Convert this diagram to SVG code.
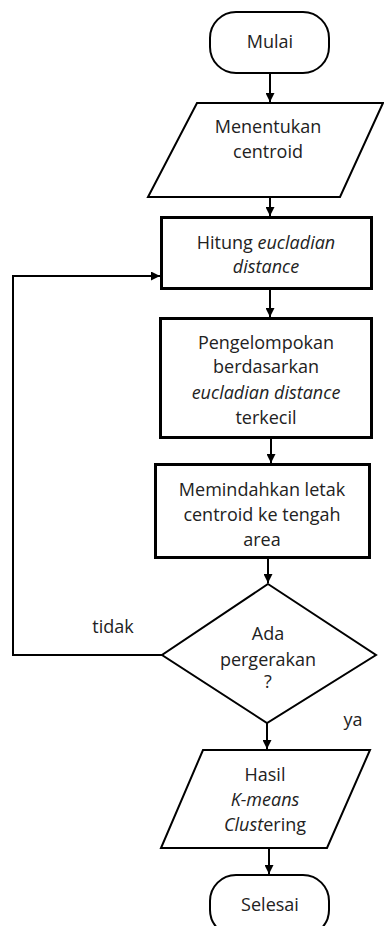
<svg xmlns="http://www.w3.org/2000/svg" width="384" height="926" viewBox="0 0 384 926">
<defs>
<marker id="ah" viewBox="0 0 10 10" refX="10" refY="5" markerWidth="4.5" markerHeight="4.5" orient="auto" markerUnits="strokeWidth">
<path d="M0,0 L10,5 L0,10 z" fill="#000"/>
</marker>
<style>
.t{font-family:"Open Sans","Liberation Sans",sans-serif;font-size:18px;fill:#222;text-anchor:middle}
.i{font-style:italic}
.s{fill:#fff;stroke:#000;stroke-width:2}
.b{fill:#fff;stroke:#000;stroke-width:3}
.c{fill:none;stroke:#000;stroke-width:2}
</style>
</defs>
<rect width="384" height="926" fill="#fff"/>
<g id="connectors">
<line class="c" x1="270" y1="73" x2="270" y2="102" marker-end="url(#ah)"/>
<line class="c" x1="270" y1="197" x2="270" y2="216" marker-end="url(#ah)"/>
<line class="c" x1="270" y1="290" x2="270" y2="317" marker-end="url(#ah)"/>
<line class="c" x1="271" y1="438" x2="271" y2="463" marker-end="url(#ah)"/>
<line class="c" x1="268" y1="559" x2="268" y2="583" marker-end="url(#ah)"/>
<polyline class="c" points="162,655 13,655 13,276 160,276" stroke-width="3" marker-end="url(#ah)"/>
<line class="c" x1="267" y1="723" x2="267" y2="749" marker-end="url(#ah)"/>
<line class="c" x1="269" y1="848" x2="269" y2="874" marker-end="url(#ah)"/>
<text class="t" x="113" y="633">tidak</text>
<text class="t" x="353" y="726">ya</text>
</g>
<g id="mulai">
<rect class="s" x="210" y="12" width="119" height="61" rx="26"/>
<text class="t" x="270" y="48">Mulai</text>
</g>
<g id="menentukan">
<polygon class="s" points="197,103 383,103 340,197 148,197"/>
<text class="t" x="268" y="133">Menentukan</text>
<text class="t" x="268" y="158">centroid</text>
</g>
<g id="hitung">
<rect class="b" x="161.5" y="217.5" width="210" height="71"/>
<text class="t" x="266" y="249">Hitung <tspan class="i">eucladian</tspan></text>
<text class="t i" x="266" y="273">distance</text>
</g>
<g id="pengelompokan">
<rect class="b" x="160.5" y="318.5" width="211" height="119"/>
<text class="t" x="266" y="349">Pengelompokan</text>
<text class="t" x="266" y="373">berdasarkan</text>
<text class="t i" x="266" y="399">eucladian distance</text>
<text class="t" x="266" y="424">terkecil</text>
</g>
<g id="memindahkan">
<rect class="b" x="155.5" y="464.5" width="214" height="93"/>
<text class="t" x="262" y="496">Memindahkan letak</text>
<text class="t" x="262" y="521">centroid ke tengah</text>
<text class="t" x="262" y="546">area</text>
</g>
<g id="ada">
<polygon class="s" points="268,584 376,655 267,723 162,655"/>
<text class="t" x="268" y="640">Ada</text>
<text class="t" x="268" y="666">pergerakan</text>
<text class="t" x="268" y="688">?</text>
</g>
<g id="hasil">
<polygon class="s" points="203,750 370,750 327,848 161,848"/>
<text class="t" x="265" y="781">Hasil</text>
<text class="t i" x="265" y="806">K-means</text>
<text class="t" x="265" y="831"><tspan class="i">Clust</tspan>ering</text>
</g>
<g id="selesai">
<rect class="s" x="210" y="875" width="119" height="61" rx="26"/>
<text class="t" x="270" y="911">Selesai</text>
</g>
</svg>
